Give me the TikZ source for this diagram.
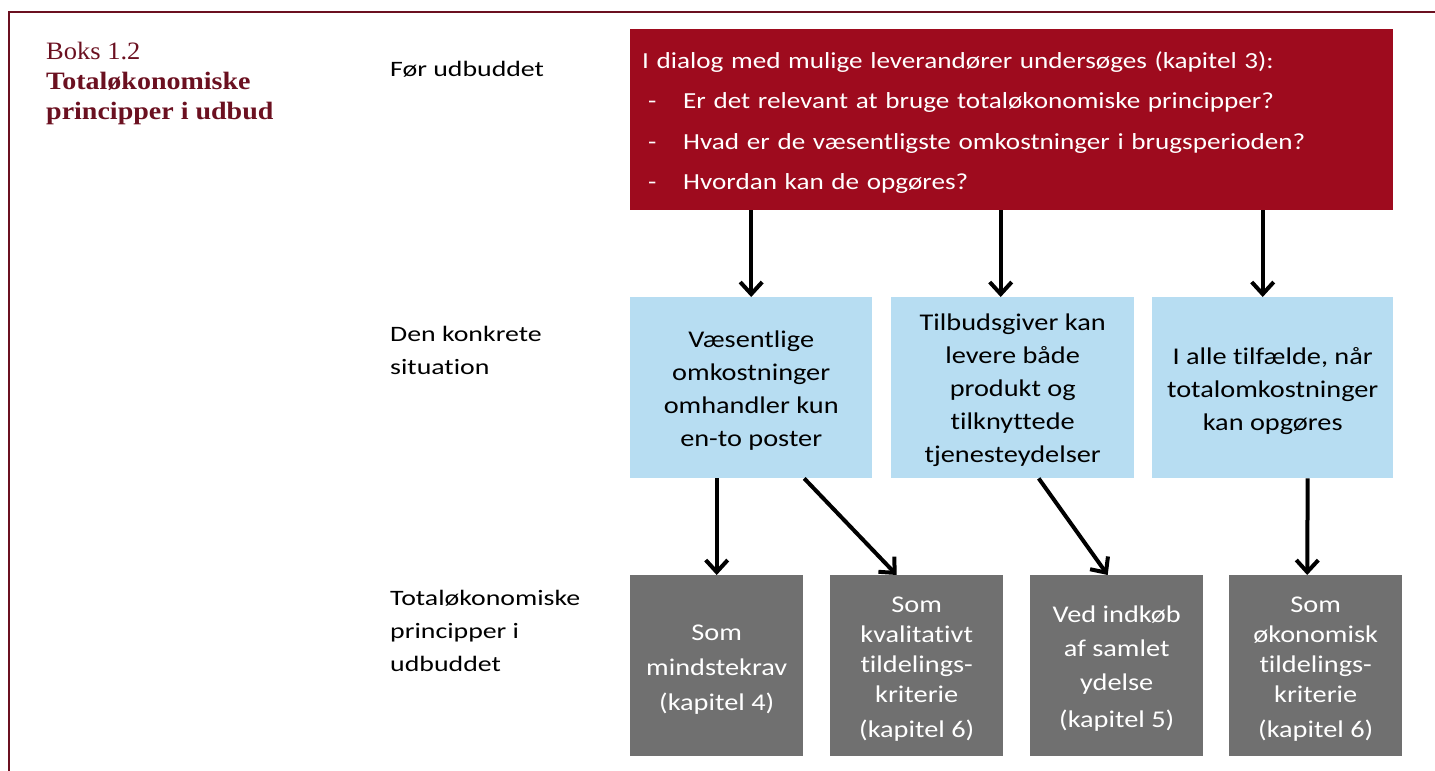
\documentclass[tikz,border=0pt]{standalone}
\usepackage{fontspec}
\setmainfont{Carlito}
\newfontfamily\boxfont[FakeStretch=1.18,Ligatures=NoCommon,RawFeature={-liga}]{Carlito}
\newfontfamily\labfont[FakeStretch=1.265,Ligatures=NoCommon,RawFeature={-liga}]{Carlito}
\newfontfamily\titlefont[FakeStretch=1.06,BoldFeatures={FakeStretch=1.12}]{Liberation Serif}
\usetikzlibrary{arrows.meta}
\definecolor{framered}{HTML}{6B1020}
\definecolor{redbox}{HTML}{9E0B1E}
\definecolor{bluebox}{HTML}{B7DDF2}
\definecolor{graybox}{HTML}{707070}
\begin{document}
\begin{tikzpicture}[x=1pt,y=-1pt,
  box/.style={rectangle, anchor=north west, inner sep=0pt, minimum height=181pt},
  redb/.style={box, fill=redbox, minimum width=763pt},
  blueb/.style={box, fill=bluebox},
  grayb/.style={box, fill=graybox, minimum width=173pt},
  btxt/.style={inner sep=0pt, align=center, font=\boxfont\fontsize{24}{33}\selectfont},
  rtxt/.style={inner sep=0pt, align=left, text width=739pt, text=white,
    font=\boxfont\fontsize{23}{40.5}\selectfont},
  gtxt/.style={btxt, text=white, font=\boxfont\fontsize{24}{30}\selectfont},
  lab/.style={anchor=north west, inner sep=0pt, align=left, text=black,
    font=\labfont\fontsize{22}{33}\selectfont},
  ttl/.style={anchor=north west, inner sep=0pt, align=left, text=framered,
    font=\titlefont\fontsize{25}{30.2}\selectfont},
  arr/.style={-{Straight Barb[length=12pt,width=22pt]}, line width=4pt, black}]
\useasboundingbox (0,0) rectangle (1435,771);
% frame
\coordinate (ftl) at (9,12);
\coordinate (ftr) at (1435,12);
\coordinate (fbl) at (9,771);
\draw[framered, line width=2.4pt] (fbl) -- (ftl) -- (ftr);
% title
\node[ttl] (title) at (46,42) {Boks 1.2\\\textbf{Totaløkonomiske}\\\textbf{principper i udbud}};
% row labels
\node[lab] (l1) at (390,61) {Før udbuddet};
\node[lab] (l2) at (390,326) {Den konkrete\\situation};
\node[lab] (l3) at (390,590) {Totaløkonomiske\\principper i\\udbuddet};
% red box
\node[redb] (red) at (630,29) {};
\node[rtxt] (redt) at ([yshift=-3pt]red.center) {I dialog med mulige leverandører undersøges (kapitel 3):\\
\hspace*{6pt}\makebox[35pt][l]{-}Er det relevant at bruge totaløkonomiske principper?\\
\hspace*{6pt}\makebox[35pt][l]{-}Hvad er de væsentligste omkostninger i brugsperioden?\\
\hspace*{6pt}\makebox[35pt][l]{-}Hvordan kan de opgøres?};
% blue boxes
\node[blueb, minimum width=242pt] (b1) at (630,297) {};
\node[blueb, minimum width=243pt] (b2) at (891,297) {};
\node[blueb, minimum width=241pt] (b3) at (1152,297) {};
\node[btxt] (b1t) at ([yshift=-3pt]b1.center) {Væsentlige\\omkostninger\\omhandler kun\\en-to poster};
\node[btxt] (b2t) at ([yshift=-3pt]b2.center) {Tilbudsgiver kan\\levere både\\produkt og\\tilknyttede\\tjenesteydelser};
\node[btxt] (b3t) at ([yshift=-3pt]b3.center) {I alle tilfælde, når\\totalomkostninger\\kan opgøres};
% gray boxes
\node[grayb] (g1) at (630,575) {};
\node[grayb] (g2) at (830,575) {};
\node[grayb] (g3) at (1030,575) {};
\node[grayb] (g4) at (1229,575) {};
\node[gtxt] (g1t) at ([yshift=-4pt]g1.center) {Som\\[5pt]mindstekrav\\[5pt](kapitel 4)};
\node[gtxt] (g2t) at ([yshift=-3pt]g2.center) {Som\\kvalitativt\\tildelings-\\kriterie\\[5pt](kapitel 6)};
\node[gtxt] (g3t) at ([yshift=-3pt]g3.center) {Ved indkøb\\[4pt]af samlet\\[4pt]ydelse\\[7pt](kapitel 5)};
\node[gtxt] (g4t) at ([yshift=-3pt]g4.center) {Som\\økonomisk\\tildelings-\\kriterie\\[5pt](kapitel 6)};
% arrows red -> blue
\draw[arr] (b1.north |- red.south) -- (b1.north);
\draw[arr] ([xshift=-12pt]b2.north |- red.south) -- ([xshift=-12pt]b2.north);
\draw[arr] ([xshift=-10pt]b3.north |- red.south) -- ([xshift=-10pt]b3.north);
% arrows blue -> gray
\draw[arr] (g1.north |- b1.south) -- (g1.north);
\draw[arr] ([xshift=53pt]b1.south) -- ([xshift=-20pt]g2.north);
\draw[arr] ([xshift=26pt]b2.south) -- ([xshift=-9pt]g3.north);
\draw[arr] ([xshift=35pt]b3.south) -- ([xshift=-8.5pt]g4.north);
\end{tikzpicture}
\end{document}
